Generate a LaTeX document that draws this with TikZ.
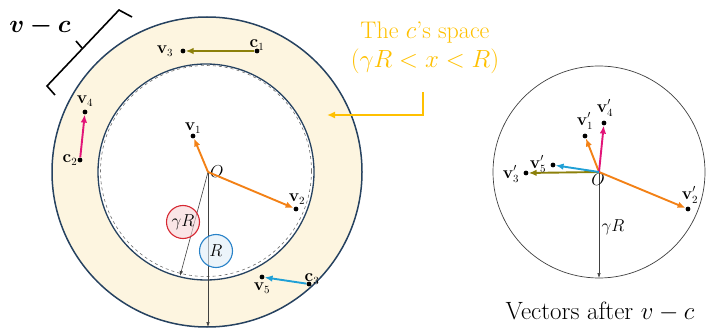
\documentclass[tikz,border=0pt]{standalone}
\usepackage{amsmath,bm}
\usetikzlibrary{arrows.meta}
\definecolor{vecorange}{RGB}{243,129,22}
\definecolor{vecolive}{RGB}{140,128,10}
\definecolor{vecpink}{RGB}{226,20,120}
\definecolor{veccyan}{RGB}{32,160,214}
\definecolor{spacegold}{RGB}{255,192,0}
\definecolor{ringfill}{RGB}{253,245,224}
\definecolor{ringedge}{RGB}{38,66,96}
\definecolor{gRred}{RGB}{214,40,50}
\definecolor{Rblue}{RGB}{40,130,200}
\begin{document}
\begin{tikzpicture}[x=1pt,y=-1pt,
  vec/.style={-{Latex[length=8pt,width=6.5pt]},line width=1.9pt},
  vdot/.style={circle,fill=black,inner sep=0pt,minimum size=4.8pt},
  lbl/.style={font=\fontsize{16}{18}\selectfont,inner sep=1pt},
  radline/.style={-{Latex[length=5pt,width=3.5pt]},black!75,line width=0.6pt},
  tag/.style={circle,draw,line width=1.1pt,minimum size=33pt,inner sep=0pt,font=\fontsize{17}{19}\selectfont,fill opacity=0.6,text opacity=1}]
\useasboundingbox (0,0) rectangle (709,331);
% ring of the c's
\fill[ringfill,even odd rule] (207,172) circle (155) (206,172) circle (108);
\draw[ringedge,line width=1.5pt] (207,172) circle (155);
\draw[ringedge,line width=1.3pt] (206,172) circle (108);
\draw[black!55,dashed,line width=0.6pt] (206,171) circle (105.5);
% radii
\coordinate (O) at (208,172);
\coordinate (gRend) at (180,276);
\coordinate (Rend) at (208,327);
\draw[radline] (O) -- (gRend);
\draw[radline] (O) -- (Rend);
\node[tag,draw=gRred,fill=gRred!20] (gR) at (183,222) {$\gamma R$};
\node[tag,draw=Rblue,fill=Rblue!15] (R) at (216,251) {$R$};
\node[lbl,anchor=west,inner sep=0pt] (Olbl) at (210,172) {$O$};
% points
\node[vdot] (v1) at (193,136) {};
\node[vdot] (v2) at (296,209) {};
\node[vdot] (c1) at (257,51) {};
\node[vdot] (v3) at (183,51) {};
\node[vdot] (c2) at (80,160) {};
\node[vdot] (v4) at (85,112) {};
\node[vdot] (c3) at (309,284) {};
\node[vdot] (v5) at (262,277) {};
\foreach \s/\t/\c in {O/v1/vecorange,O/v2/vecorange,c1/v3/vecolive,c2/v4/vecpink,c3/v5/veccyan}
  \draw[vec,\c] (\s) -- (\t);
\node[lbl] (v1l) at (193,128) {$\mathbf{v}_1$};
\node[lbl] (v2l) at (297,199) {$\mathbf{v}_2$};
\node[lbl] (v3l) at (165,51) {$\mathbf{v}_3$};
\node[lbl] (c1l) at (257,45) {$\mathbf{c}_1$};
\node[lbl] (v4l) at (85,101) {$\mathbf{v}_4$};
\node[lbl] (c2l) at (70,160) {$\mathbf{c}_2$};
\node[lbl] (c3l) at (312,279) {$\mathbf{c}_3$};
\node[lbl] (v5l) at (262,288) {$\mathbf{v}_5$};
% brace for v-c
\draw[line width=1.6pt] (55,95) -- (47,86) -- (119,10) -- (132,17);
\draw[line width=1.6pt] (82,48) -- (76,41);
\node[font=\fontsize{25}{28}\selectfont] (vc) at (40,26) {$\bm{v-c}$};
% the c's space note
\node[font=\fontsize{24}{29}\selectfont,text=spacegold,align=center] (space) at (425,48) {The $c$'s space\\$(\gamma R<x<R)$};
\coordinate (ringpt) at (327,115);
\draw[spacegold,line width=1.8pt,-{Latex[length=8pt,width=7pt]}] (423,92) |- (ringpt);
% after v-c
\draw[black!75,line width=0.7pt] (599,172) circle (106);
\coordinate (Op) at (599,172);
\coordinate (Opend) at (599,278);
\draw[radline] (Op) -- (Opend);
\node[lbl] (gRp) at (613,227) {$\gamma R$};
\node[lbl,anchor=north,inner sep=0pt] (Oplbl) at (598,173) {$O$};
\node[vdot] (vp1) at (585,136) {};
\node[vdot] (vp2) at (688,209) {};
\node[vdot] (vp3) at (526,173) {};
\node[vdot] (vp4) at (604,123) {};
\node[vdot] (vp5) at (553,165) {};
\foreach \t/\c in {vp1/vecorange,vp2/vecorange,vp3/vecolive,vp4/vecpink,vp5/veccyan}
  \draw[vec,\c] (Op) -- (\t);
\node[lbl] (vp1l) at (585,121) {$\mathbf{v}_1'$};
\node[lbl] (vp2l) at (690,195) {$\mathbf{v}_2'$};
\node[lbl] (vp3l) at (511,174) {$\mathbf{v}_3'$};
\node[lbl] (vp4l) at (605,108) {$\mathbf{v}_4'$};
\node[lbl] (vp5l) at (538,164) {$\mathbf{v}_5'$};
\node[font=\fontsize{25}{30}\selectfont] (cap) at (600,312) {Vectors after $v-c$};
\end{tikzpicture}
\end{document}
